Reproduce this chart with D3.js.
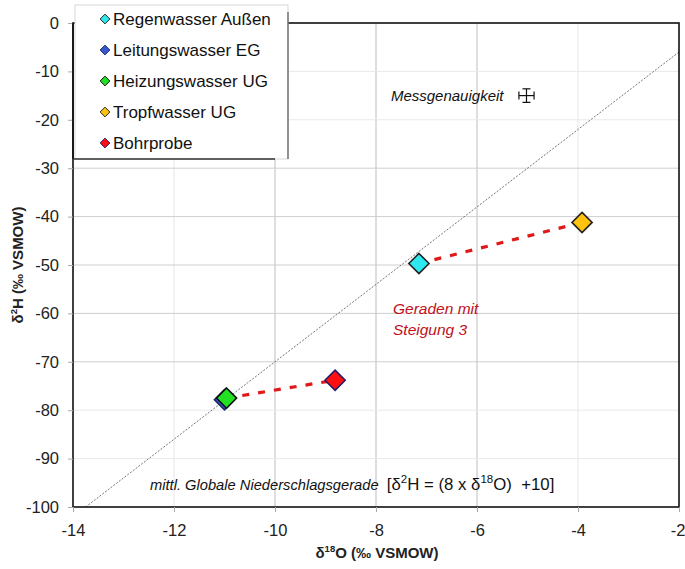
<!DOCTYPE html>
<html>
<head>
<meta charset="utf-8">
<script src="https://cdn.jsdelivr.net/npm/d3@7"></script>
<style>
  body { margin: 0; background: #fff; }
  svg { font-family: "Liberation Sans", Arial, sans-serif; }
</style>
</head>
<body>
<div class="chart"></div>
<script>
// series (legend order)
const seriesNames = ['Regenwasser Außen', 'Leitungswasser EG', 'Heizungswasser UG', 'Tropfwasser UG', 'Bohrprobe'];
const seriesColors = ['#2ee8f0', '#3558d0', '#22e022', '#ffc20e', '#ff1010'];
const seriesStroke = ['#222', '#1b2a66', '#111', '#222', '#2a1a66'];
const d18O = [-7.15, -11.0, -10.96, -3.92, -8.81];
const d2H = [-49.7, -77.85, -77.5, -41.2, -73.8];

// red dashed connections (indices into the series arrays)
const links = [[0, 3], [2, 4]];

// axes
const xTicks = [-14, -12, -10, -8, -6, -4, -2];
const yTicks = [0, -10, -20, -30, -40, -50, -60, -70, -80, -90, -100];

// measurement accuracy cross
const accX = -5.02, accY = -15, accErrX = 0.15, accErrY = 1.4;

// GMWL: d2H = 8 * d18O + 10
const gmwlSlope = 8, gmwlIntercept = 10;

function chart(selector) {
    const width = 685,
        height = 569,
        margin = { left: 73, right: 6, top: 23, bottom: 62 };

    const x = d3.scaleLinear().domain([-14, -2]).range([margin.left, width - margin.right]);
    const y = d3.scaleLinear().domain([-100, 0]).range([height - margin.bottom, margin.top]);

    const svg = d3.select(selector)
        .append('svg')
        .attr('width', width)
        .attr('height', height);

    // grid
    const strongX = [-10, -8, -6];
    const strongY = [-30, -40, -50, -60, -70];
    svg.append('g').selectAll('line')
        .data(xTicks.slice(1, -1))
        .join('line')
        .attr('x1', d => x(d)).attr('x2', d => x(d))
        .attr('y1', y(0)).attr('y2', y(-100))
        .attr('stroke', d => strongX.includes(d) ? '#bdbdbd' : '#e6e6e6');
    svg.append('g').selectAll('line')
        .data(yTicks.slice(1, -1))
        .join('line')
        .attr('x1', x(-14)).attr('x2', x(-2))
        .attr('y1', d => y(d)).attr('y2', d => y(d))
        .attr('stroke', d => strongY.includes(d) ? '#cfcfcf' : '#e9e9e9');

    // GMWL line
    const gx0 = (-100 - gmwlIntercept) / gmwlSlope;
    svg.append('line')
        .attr('x1', x(gx0)).attr('y1', y(-100))
        .attr('x2', x(-2)).attr('y2', y(gmwlSlope * -2 + gmwlIntercept))
        .attr('stroke', '#666')
        .attr('stroke-width', 0.9)
        .attr('stroke-dasharray', '2,1.5');

    // dashed red links
    svg.append('g').selectAll('line')
        .data(links)
        .join('line')
        .attr('x1', d => x(d18O[d[0]])).attr('y1', d => y(d2H[d[0]]))
        .attr('x2', d => x(d18O[d[1]])).attr('y2', d => y(d2H[d[1]]))
        .attr('stroke', '#e01818')
        .attr('stroke-width', 3.2)
        .attr('stroke-dasharray', '7,9');

    // frame
    svg.append('rect')
        .attr('x', x(-14)).attr('y', y(0))
        .attr('width', x(-2) - x(-14))
        .attr('height', y(-100) - y(0))
        .attr('fill', 'none')
        .attr('stroke', '#111')
        .attr('stroke-width', 1.6);

    // axes
    const xAxis = svg.append('g')
        .attr('transform', `translate(0,${y(-100)})`)
        .call(d3.axisBottom(x).tickValues(xTicks).tickSize(5).tickPadding(12).tickFormat(d3.format('d')));
    const yAxis = svg.append('g')
        .attr('transform', `translate(${x(-14)},0)`)
        .call(d3.axisLeft(y).tickValues(yTicks).tickSize(5).tickPadding(9).tickFormat(d3.format('d')));
    [xAxis, yAxis].forEach(a => {
        a.select('.domain').remove();
        a.selectAll('.tick line').attr('stroke', '#aaa');
        a.selectAll('text')
            .attr('font-size', 16.5)
            .attr('font-family', '"Liberation Sans", Arial, sans-serif')
            .attr('fill', '#222')
            .text(d => String(d).replace('-', '-'));
    });
    // last x label sits at the window edge
    xAxis.selectAll('.tick text').filter(d => d === -2)
        .attr('text-anchor', 'end')
        .attr('x', 6);

    // markers
    const diamond = d3.symbol().type(d3.symbolDiamond2);
    svg.append('g').selectAll('path')
        .data(d3.range(seriesNames.length))
        .join('path')
        .attr('d', diamond.size(260)())
        .attr('transform', i => `translate(${x(d18O[i])},${y(d2H[i])})`)
        .attr('fill', i => seriesColors[i])
        .attr('stroke', i => seriesStroke[i])
        .attr('stroke-width', 1.6);

    // accuracy cross
    const acc = svg.append('g').attr('stroke', '#111').attr('stroke-width', 1.2);
    acc.append('line').attr('x1', x(accX - accErrX)).attr('x2', x(accX + accErrX)).attr('y1', y(accY)).attr('y2', y(accY));
    acc.append('line').attr('x1', x(accX)).attr('x2', x(accX)).attr('y1', y(accY + accErrY)).attr('y2', y(accY - accErrY));
    acc.append('line').attr('x1', x(accX - accErrX)).attr('x2', x(accX - accErrX)).attr('y1', y(accY) - 4).attr('y2', y(accY) + 4);
    acc.append('line').attr('x1', x(accX + accErrX)).attr('x2', x(accX + accErrX)).attr('y1', y(accY) - 4).attr('y2', y(accY) + 4);
    acc.append('line').attr('x1', x(accX) - 4).attr('x2', x(accX) + 4).attr('y1', y(accY + accErrY)).attr('y2', y(accY + accErrY));
    acc.append('line').attr('x1', x(accX) - 4).attr('x2', x(accX) + 4).attr('y1', y(accY - accErrY)).attr('y2', y(accY - accErrY));

    svg.append('text')
        .attr('x', x(accX) - 23).attr('y', y(accY) + 5)
        .attr('text-anchor', 'end')
        .attr('font-size', 15)
        .attr('font-style', 'italic')
        .attr('fill', '#111')
        .text('Messgenauigkeit');

    // slope annotation
    const slopeText = svg.append('text')
        .attr('font-size', 15.5)
        .attr('font-style', 'italic')
        .attr('fill', '#c0101a');
    slopeText.append('tspan').attr('x', 393).attr('y', 314).text('Geraden mit');
    slopeText.append('tspan').attr('x', 393).attr('y', 335).text('Steigung 3');

    // GMWL annotation
    const gm = svg.append('text')
        .attr('x', 150).attr('y', 490)
        .attr('font-size', 14.7)
        .attr('fill', '#111')
        .attr('xml:space', 'preserve');
    gm.append('tspan').attr('font-style', 'italic').text('mittl. Globale Niederschlagsgerade  ');
    const br = gm.append('tspan').attr('font-size', 16.8);
    br.append('tspan').text('[δ');
    br.append('tspan').attr('font-size', 11.5).attr('dy', -7).text('2');
    br.append('tspan').attr('dy', 7).text('H = (8 x δ');
    br.append('tspan').attr('font-size', 11.5).attr('dy', -7).text('18');
    br.append('tspan').attr('dy', 7).text('O)  +10]');

    // axis titles
    const xt = svg.append('text')
        .attr('x', (x(-14) + x(-2)) / 2 + 1).attr('y', 558)
        .attr('text-anchor', 'middle')
        .attr('font-size', 15)
        .attr('font-weight', 'bold')
        .attr('fill', '#222');
    xt.append('tspan').text('δ');
    xt.append('tspan').attr('font-size', 9.5).attr('dy', -6).text('18');
    xt.append('tspan').attr('dy', 6).text('O (‰ VSMOW)');

    const yt = svg.append('text')
        .attr('transform', `translate(23,${(y(0) + y(-100)) / 2}) rotate(-90)`)
        .attr('text-anchor', 'middle')
        .attr('font-size', 15)
        .attr('font-weight', 'bold')
        .attr('fill', '#222');
    yt.append('tspan').text('δ');
    yt.append('tspan').attr('font-size', 9.5).attr('dy', -6).text('2');
    yt.append('tspan').attr('dy', 6).text('H (‰ VSMOW)');

    // legend
    const lg = svg.append('g');
    lg.append('rect')
        .attr('x', 75).attr('y', 5)
        .attr('width', 213).attr('height', 154)
        .attr('fill', '#fff')
        .attr('stroke', '#d8d8d8');
    lg.append('line')
        .attr('x1', x(-14)).attr('x2', x(-14)).attr('y1', y(0)).attr('y2', 159)
        .attr('stroke', '#111').attr('stroke-width', 1.6);
    lg.append('line')
        .attr('x1', x(-14)).attr('x2', 275).attr('y1', 159).attr('y2', 159)
        .attr('stroke', '#333').attr('stroke-width', 1.4);
    lg.append('line')
        .attr('x1', 288).attr('x2', 288).attr('y1', 12).attr('y2', 159)
        .attr('stroke', '#555').attr('stroke-width', 1.2);
    const items = lg.selectAll('g.item')
        .data(seriesNames)
        .join('g')
        .attr('class', 'item')
        .attr('transform', (d, i) => `translate(105,${19 + i * 31})`);
    items.append('path')
        .attr('d', d3.symbol().type(d3.symbolDiamond2).size(60)())
        .attr('fill', (d, i) => seriesColors[i])
        .attr('stroke', (d, i) => seriesStroke[i])
        .attr('stroke-width', 1);
    items.append('text')
        .attr('x', 8).attr('y', 6)
        .attr('font-size', 17)
        .attr('fill', '#111')
        .text(d => d);
}

chart('.chart');
</script>
</body>
</html>
